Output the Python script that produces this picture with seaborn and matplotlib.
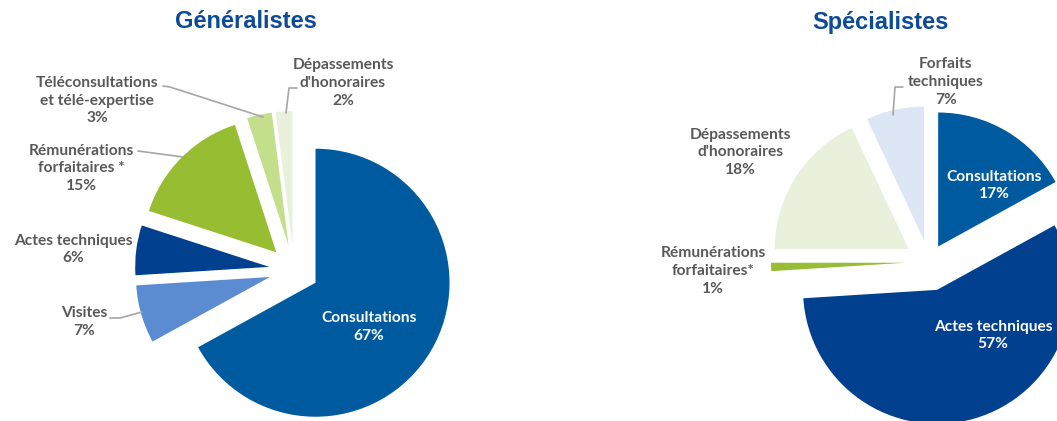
import matplotlib
matplotlib.use("Agg")
import matplotlib.pyplot as plt
import seaborn as sns

# ---------------- data ----------------
gen_categories = ["Consultations", "Visites", "Actes techniques",
                  "Rémunérations\nforfaitaires *", "Téléconsultations\net télé-expertise",
                  "Dépassements\nd'honoraires"]
gen_values = [67, 7, 6, 15, 3, 2]

spe_categories = ["Consultations", "Actes techniques", "Rémunérations\nforfaitaires*",
                  "Dépassements\nd'honoraires", "Forfaits\ntechniques"]
spe_values = [17, 57, 1, 18, 7]

titles = ["Généralistes", "Spécialistes"]

# ---------------- style ----------------
sns.set_theme(style="white")
plt.rcParams["font.family"] = ["Lato", "DejaVu Sans"]

W, H = 1057, 421
C_CONS = "#005AA0"
C_VIS = "#5B8BD0"
C_ACT = "#00408E"
C_REM = "#97BE33"
C_TELE = "#C4DF8B"
C_DEP = "#E9F1DD"
C_FORF = "#DCE6F4"
TXT = "#595959"
TITLE_C = "#0D4B97"
LINE_C = "#A6A6A6"

gen_colors = [C_CONS, C_VIS, C_ACT, C_REM, C_TELE, C_DEP]
spe_colors = [C_CONS, C_ACT, C_REM, C_DEP, C_FORF]

fig = plt.figure(figsize=(W / 100, H / 100), dpi=100)
ax = fig.add_axes([0, 0, 1, 1])
ax.axis("off")

def Y(y):
    return H - y

# ---------------- pies ----------------
ax.pie(gen_values, colors=gen_colors, startangle=90, counterclock=False,
       center=(294, Y(270)), radius=134, explode=[25] * len(gen_values),
       wedgeprops=dict(linewidth=0), frame=False)
ax.pie(spe_values, colors=spe_colors, startangle=90, counterclock=False,
       center=(929, Y(262)), radius=134, explode=[18, 29, 24, 24, 22],
       wedgeprops=dict(linewidth=0), frame=False)
ax.set_xlim(0, W)
ax.set_ylim(0, H)
ax.set_aspect("equal")

# ---------------- labels ----------------
gen_label_pos = [(369, 327), (84, 322), (73, 249.5), (81, 168.5), (97, 100.5), (343, 83)]
gen_label_col = ["white", TXT, TXT, TXT, TXT, TXT]
spe_label_pos = [(994, 185.5), (993, 335.5), (713, 271), (740, 152.5), (946, 82)]
spe_label_col = ["white", "white", TXT, TXT, TXT]

def put_labels(cats, vals, pos, cols):
    for c, v, (x, y), col in zip(cats, vals, pos, cols):
        ax.text(x, Y(y), f"{c}\n{v}%", ha="center", va="center", color=col,
                fontsize=11.2, fontweight="bold", linespacing=1.35)

put_labels(gen_categories, gen_values, gen_label_pos, gen_label_col)
put_labels(spe_categories, spe_values, spe_label_pos, spe_label_col)

# leader lines
leaders = [
    [(110, 318), (120, 318), (142, 312)],
    [(138, 151), (183, 157)],
    [(163, 86), (170, 87), (263, 117)],
    [(297, 88), (289, 88), (286, 113)],
    [(903, 87), (895, 87), (893, 115)],
]
for pts in leaders:
    ax.plot([p[0] for p in pts], [Y(p[1]) for p in pts], color=LINE_C, lw=1.2)

# ---------------- titles ----------------
for t, x in zip(titles, [246, 880]):
    ax.text(x, Y(22), t, ha="center", va="center", color=TITLE_C, fontsize=17,
            fontweight="bold", family=["Liberation Sans", "DejaVu Sans"])

fig.savefig("out.png", dpi=100)
